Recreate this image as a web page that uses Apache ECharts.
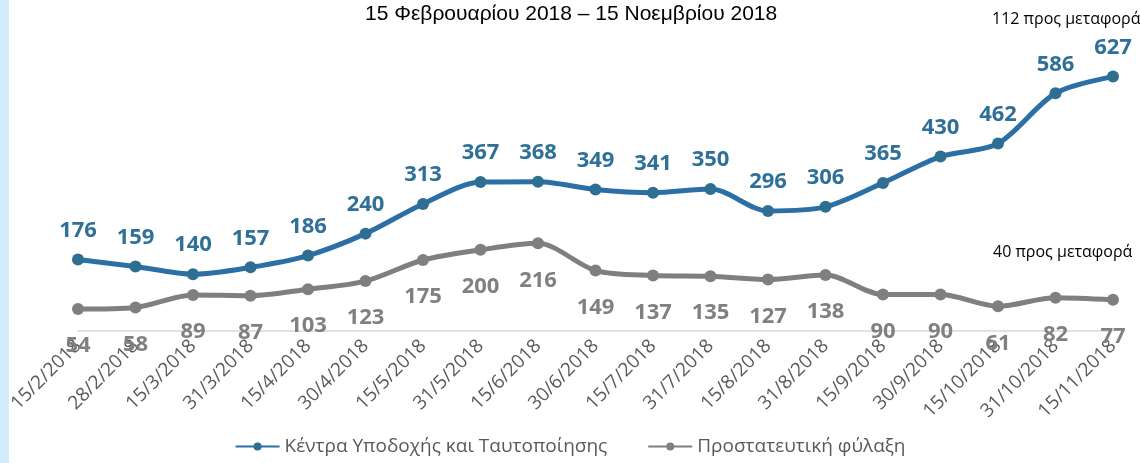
<!DOCTYPE html>
<html>
<head>
<meta charset="utf-8">
<script src="https://cdn.jsdelivr.net/npm/echarts@6/dist/echarts.min.js"></script>
<style>
  html, body { margin: 0; padding: 0; background: #fff; }
  #chart { width: 1140px; height: 463px; }
</style>
</head>
<body>
<div id="chart"></div>
<script>
const dates = [
  '15/2/2018', '28/2/2018', '15/3/2018', '31/3/2018', '15/4/2018', '30/4/2018',
  '15/5/2018', '31/5/2018', '15/6/2018', '30/6/2018', '15/7/2018', '31/7/2018',
  '15/8/2018', '31/8/2018', '15/9/2018', '30/9/2018', '15/10/2018', '31/10/2018',
  '15/11/2018'
];
const receptionCentres = [176, 159, 140, 157, 186, 240, 313, 367, 368, 349, 341, 350, 296, 306, 365, 430, 462, 586, 627];
const protectiveCustody = [54, 58, 89, 87, 103, 123, 175, 200, 216, 149, 137, 135, 127, 138, 90, 90, 61, 82, 77];

const seriesNames = ['Κέντρα Υποδοχής και Ταυτοποίησης', 'Προστατευτική φύλαξη'];
const subtitle = '15 Φεβρουαρίου 2018 – 15 Νοεμβρίου 2018';
const noteTop = '112 προς μεταφορά';
const noteBottom = '40 προς μεταφορά';

const BLUE = '#2B6FA6';
const BLUE_DARK = '#2E6E90';
const GRAY = '#7F7F7F';
const TEXT = '#595959';
const FONT = "'Open Sans', 'Noto Sans', sans-serif";

const chart = echarts.init(document.getElementById('chart'), null, { renderer: 'canvas' });

chart.setOption({
  animation: false,
  backgroundColor: '#fff',
  grid: { left: 78, right: 27, top: 47, bottom: 132, containLabel: false },
  graphic: [
    { type: 'rect', left: 0, top: 0, shape: { width: 9, height: 463 }, style: { fill: '#D2EBFD' } },
    {
      type: 'text', left: 365, top: 4,
      style: { text: subtitle, font: "21px 'Liberation Sans', Arial, sans-serif", fill: '#000' }
    },
    {
      type: 'text', left: 992, top: 11,
      style: { text: noteTop, font: "16px " + FONT, fill: '#000' }
    },
    {
      type: 'text', left: 993, top: 244,
      style: { text: noteBottom, font: "16px " + FONT, fill: '#000' }
    }
  ],
  legend: {
    bottom: 2,
    left: 'center',
    itemGap: 40,
    itemWidth: 44,
    itemHeight: 10,
    textStyle: { fontFamily: FONT, fontSize: 19, color: TEXT },
    data: seriesNames
  },
  xAxis: {
    type: 'category',
    data: dates,
    boundaryGap: false,
    axisLine: { lineStyle: { color: '#D9D9D9', width: 1.5 } },
    axisTick: { show: false },
    axisLabel: {
      rotate: 45,
      margin: 12,
      interval: 0,
      fontFamily: FONT,
      fontSize: 19,
      color: TEXT
    }
  },
  yAxis: {
    type: 'value',
    min: 0,
    max: 700,
    show: false,
    splitLine: { show: false }
  },
  series: [
    {
      name: seriesNames[0],
      type: 'line',
      data: receptionCentres,
      smooth: 0.3,
      symbol: 'circle',
      symbolSize: 12,
      lineStyle: { color: BLUE, width: 5 },
      itemStyle: { color: BLUE_DARK },
      label: {
        show: true,
        position: 'top',
        distance: 12,
        fontFamily: FONT,
        fontWeight: 'bold',
        fontSize: 22,
        color: '#2E7097'
      }
    },
    {
      name: seriesNames[1],
      type: 'line',
      data: protectiveCustody,
      smooth: 0.3,
      symbol: 'circle',
      symbolSize: 12,
      lineStyle: { color: GRAY, width: 5 },
      itemStyle: { color: GRAY },
      label: {
        show: true,
        position: 'bottom',
        distance: 20,
        fontFamily: FONT,
        fontWeight: 'bold',
        fontSize: 22,
        color: '#808080'
      }
    }
  ]
});
</script>
</body>
</html>
